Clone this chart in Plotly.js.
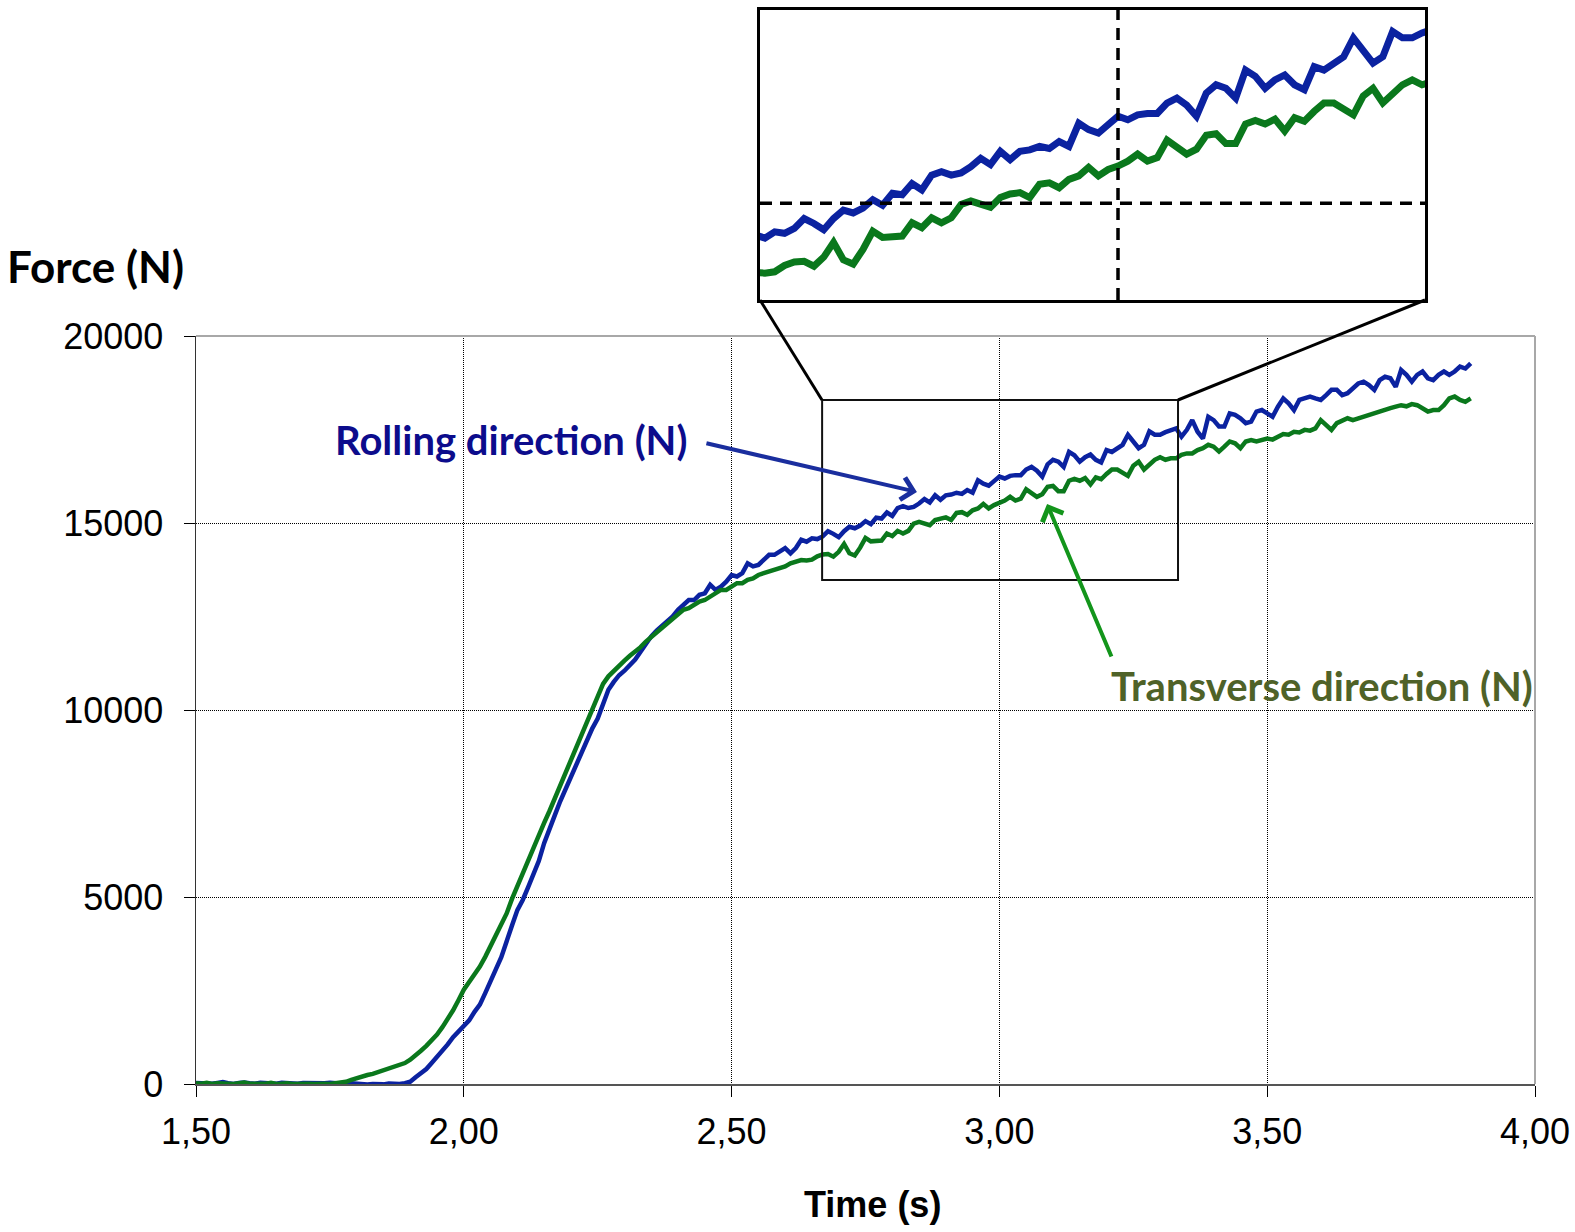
<!DOCTYPE html>
<html><head><meta charset="utf-8">
<script src="https://cdn.plot.ly/plotly-3.0.1.min.js"></script>
<style>html,body{margin:0;padding:0;background:#fff}#chart{width:1575px;height:1232px}</style>
</head><body><div id="chart"></div>
<script>
// ---------------- data ----------------
const time = [
1.50,1.51,1.52,1.53,1.54,1.55,1.56,1.57,1.58,1.59,
1.60,1.61,1.62,1.63,1.64,1.65,1.66,1.67,1.68,1.69,
1.70,1.71,1.72,1.73,1.74,1.75,1.76,1.77,1.78,1.79,
1.80,1.81,1.82,1.83,1.84,1.85,1.86,1.87,1.88,1.89,
1.90,1.91,1.92,1.93,1.94,1.95,1.96,1.97,1.98,1.99,
2.00,2.01,2.02,2.03,2.04,2.05,2.06,2.07,2.08,2.09,
2.10,2.11,2.12,2.13,2.14,2.15,2.16,2.17,2.18,2.19,
2.20,2.21,2.22,2.23,2.24,2.25,2.26,2.27,2.28,2.29,
2.30,2.31,2.32,2.33,2.34,2.35,2.36,2.37,2.38,2.39,
2.40,2.41,2.42,2.43,2.44,2.45,2.46,2.47,2.48,2.49,
2.50,2.51,2.52,2.53,2.54,2.55,2.56,2.57,2.58,2.59,
2.60,2.61,2.62,2.63,2.64,2.65,2.66,2.67,2.68,2.69,
2.70,2.71,2.72,2.73,2.74,2.75,2.76,2.77,2.78,2.79,
2.80,2.81,2.82,2.83,2.84,2.85,2.86,2.87,2.88,2.89,
2.90,2.91,2.92,2.93,2.94,2.95,2.96,2.97,2.98,2.99,
3.00,3.01,3.02,3.03,3.04,3.05,3.06,3.07,3.08,3.09,
3.10,3.11,3.12,3.13,3.14,3.15,3.16,3.17,3.18,3.19,
3.20,3.21,3.22,3.23,3.24,3.25,3.26,3.27,3.28,3.29,
3.30,3.31,3.32,3.33,3.34,3.35,3.36,3.37,3.38,3.39,
3.40,3.41,3.42,3.43,3.44,3.45,3.46,3.47,3.48,3.49,
3.50,3.51,3.52,3.53,3.54,3.55,3.56,3.57,3.58,3.59,
3.60,3.61,3.62,3.63,3.64,3.65,3.66,3.67,3.68,3.69,
3.70,3.71,3.72,3.73,3.74,3.75,3.76,3.77,3.78,3.79,
3.80,3.81,3.82,3.83,3.84,3.85,3.86,3.87,3.88];

const rolling = [
30,20,40,10,30,50,20,0,30,40,
20,10,30,20,-10,10,30,20,0,10,
30,20,10,0,20,30,10,-10,0,20,
10,-20,-10,0,-20,-10,10,-10,0,20,
60,180,290,400,560,720,880,1060,1250,1390,
1540,1700,1930,2120,2430,2720,3070,3390,3860,4240,
4650,4920,5260,5590,5960,6440,6860,7190,7560,7890,
8210,8540,8890,9190,9510,9770,10140,10540,10750,10930,
11050,11200,11350,11560,11780,11970,12120,12250,12400,12500,
12680,12810,12940,12940,13080,13120,13350,13210,13300,13430,
13610,13570,13660,13920,13840,13880,14010,14150,14150,14240,
14330,14190,14330,14550,14500,14590,14570,14640,14780,14710,
14620,14780,14900,14860,14930,15050,14970,15140,15120,15280,
15190,15400,15450,15400,15430,15520,15640,15550,15740,15620,
15740,15760,15810,15780,15880,15810,16140,16050,16000,16120,
16240,16190,16260,16280,16280,16430,16500,16400,16240,16570,
16690,16640,16500,16900,16810,16640,16760,16830,16690,16620,
16950,16900,17000,17090,17360,17170,17000,17090,17450,17360,
17360,17430,17490,17530,17310,17490,17750,17440,17260,17840,
17750,17580,17580,17930,17890,17800,17670,17710,17980,18020,
17930,17840,18110,18330,18200,18020,18290,18330,18380,18330,
18290,18420,18560,18560,18420,18470,18600,18730,18780,18690,
18560,18820,18910,18870,18640,19090,18960,18780,18960,19050,
18870,18820,18960,19050,18960,19050,19180,19130,19270];

const transverse = [
20,10,30,0,20,30,10,0,20,40,
10,0,20,10,30,0,10,20,0,10,
30,10,0,20,10,0,20,30,60,110,
160,200,240,270,320,370,420,450,490,560,
650,760,890,1020,1160,1320,1520,1740,1970,2240,
2520,2730,2930,3140,3400,3700,3950,4230,4560,4950,
5300,5620,5950,6300,6650,6980,7300,7640,7980,8320,
8650,8990,9320,9650,9980,10350,10700,10900,11050,11180,
11320,11450,11560,11680,11830,11950,12060,12180,12300,12410,
12540,12680,12720,12810,12900,12940,13030,13120,13210,13210,
13300,13390,13390,13480,13520,13610,13660,13700,13750,13790,
13840,13920,13970,14010,14000,14020,14110,14160,14170,14100,
14230,14440,14190,14130,14340,14600,14510,14530,14530,14720,
14650,14790,14720,14790,14980,15030,14980,14940,15080,15130,
15150,15080,15270,15290,15220,15340,15390,15510,15390,15480,
15530,15600,15700,15600,15650,15900,15800,15700,15770,15970,
15990,15850,15850,16130,16180,16130,16200,16030,16220,16170,
16310,16430,16430,16340,16260,16530,16640,16430,16550,16690,
16760,16690,16730,16730,16820,16860,16860,16950,17000,17090,
17040,16910,17040,17180,17130,17000,17180,17220,17180,17220,
17260,17230,17310,17380,17360,17440,17420,17490,17470,17530,
17750,17620,17490,17670,17750,17800,17750,17800,17840,17890,
17930,17980,18020,18070,18110,18150,18120,18180,18150,18070,
17980,18020,18020,18150,18330,18380,18290,18240,18330];

const xTickVals = [1.5, 2.0, 2.5, 3.0, 3.5, 4.0];
const yTickVals = [0, 5000, 10000, 15000, 20000];
const seriesNames = ['Rolling direction (N)', 'Transverse direction (N)'];
const xTitle = 'Time (s)';
const yTitle = 'Force (N)';

// ---------------- layout settings ----------------
const BLUE = '#0B22A0', GREEN = '#0A781C';
const zoomBoxX = [2.669, 3.3335], zoomBoxY = [13479, 18288];   // magnified region
const insetX = [2.635, 3.313], insetY = [13617, 17758];         // inset view
const insetMark = {x: 3.0, y: 15000};
const TICKFONT = {family: '"Liberation Sans", Arial, sans-serif', size: 36, color: '#000'};
const LABELFONT = 'Lato, "Open Sans", sans-serif';

const W = 1575, H = 1232, ML = 196, MR = 40, MT = 10, MB = 148;
const PW = W - ML - MR, PH = H - MT - MB;
const px = x => (x - ML) / PW;          // page pixel -> paper x
const py = y => (H - MB - y) / PH;      // page pixel -> paper y

const traces = [
  {x: time, y: rolling, name: seriesNames[0], mode: 'lines', line: {color: BLUE, width: 4.5}, xaxis: 'x', yaxis: 'y'},
  {x: time, y: transverse, name: seriesNames[1], mode: 'lines', line: {color: GREEN, width: 4.5}, xaxis: 'x', yaxis: 'y'},
  {x: time, y: rolling, name: seriesNames[0], mode: 'lines', line: {color: BLUE, width: 7}, xaxis: 'x2', yaxis: 'y2'},
  {x: time, y: transverse, name: seriesNames[1], mode: 'lines', line: {color: GREEN, width: 7}, xaxis: 'x2', yaxis: 'y2'}
];

const layout = {
  width: W, height: H,
  margin: {l: ML, r: MR, t: MT, b: MB},
  paper_bgcolor: '#fff', plot_bgcolor: 'rgba(0,0,0,0)',
  showlegend: false,
  separators: ', ',
  xaxis: {
    domain: [0, 1], range: [1.5, 4.0], tickvals: xTickVals, tickformat: '.2f',
    ticks: 'outside', ticklen: 11, tickwidth: 1, tickcolor: '#000',
    showline: true, linecolor: '#555', linewidth: 2,
    showgrid: true, gridcolor: '#000', gridwidth: 1, griddash: '1px,1px',
    zeroline: false, tickfont: TICKFONT, ticklabelstandoff: 4, anchor: 'y'
  },
  yaxis: {
    domain: [0, py(336)], range: [0, 20000], tickvals: yTickVals, tickformat: 'd',
    ticks: 'outside', ticklen: 11, tickwidth: 1, tickcolor: '#000',
    showline: true, linecolor: '#333', linewidth: 1.5,
    showgrid: true, gridcolor: '#000', gridwidth: 1, griddash: '1px,1px',
    zeroline: false, tickfont: TICKFONT, ticklabelstandoff: 13, anchor: 'x'
  },
  xaxis2: {
    domain: [px(760), px(1425)], range: insetX, anchor: 'y2',
    showticklabels: false, ticks: '', showgrid: false, zeroline: false,
    showline: true, mirror: true, linecolor: '#000', linewidth: 3
  },
  yaxis2: {
    domain: [py(300), py(10)], range: insetY, anchor: 'x2',
    showticklabels: false, ticks: '', showgrid: false, zeroline: false,
    showline: true, mirror: true, linecolor: '#000', linewidth: 3
  },
  shapes: [
    {type: 'line', xref: 'x domain', yref: 'y domain', x0: 0, x1: 1, y0: 1, y1: 1, line: {color: '#a8a8a8', width: 2}},
    {type: 'line', xref: 'x domain', yref: 'y domain', x0: 1, x1: 1, y0: 0, y1: 1, line: {color: '#a8a8a8', width: 2}},
    {type: 'rect', xref: 'x', yref: 'y', x0: zoomBoxX[0], x1: zoomBoxX[1], y0: zoomBoxY[0], y1: zoomBoxY[1], line: {color: '#111', width: 2}},
    {type: 'line', xref: 'paper', yref: 'paper', x0: px(822), y0: py(400), x1: px(760), y1: py(300), line: {color: '#000', width: 3}},
    {type: 'line', xref: 'paper', yref: 'paper', x0: px(1178), y0: py(400), x1: px(1425), y1: py(300), line: {color: '#000', width: 3}},
    {type: 'line', xref: 'x2', yref: 'y2 domain', x0: insetMark.x, x1: insetMark.x, y0: 0, y1: 1, line: {color: '#000', width: 3.5, dash: '12px,8px'}},
    {type: 'line', xref: 'x2 domain', yref: 'y2', x0: 0, x1: 1, y0: insetMark.y, y1: insetMark.y, line: {color: '#000', width: 3.5, dash: '12px,8px'}}
  ],
  annotations: [
    {xref: 'paper', yref: 'paper', x: px(95.5), y: py(266), xanchor: 'center', yanchor: 'middle', showarrow: false,
     text: '<b>' + yTitle + '</b>', font: {family: LABELFONT, size: 44, color: '#000'}},
    {xref: 'paper', yref: 'paper', x: px(872), y: py(1204), xanchor: 'center', yanchor: 'middle', showarrow: false,
     text: '<b>' + xTitle + '</b>', font: {family: '"Liberation Sans", Arial, sans-serif', size: 36, color: '#000'}},
    {xref: 'paper', yref: 'paper', x: px(511), y: py(440), xanchor: 'center', yanchor: 'middle', showarrow: false,
     text: '<b>' + seriesNames[0] + '</b>', font: {family: LABELFONT, size: 40, color: '#0C0C8C'}},
    {xref: 'paper', yref: 'paper', x: px(1322), y: py(686), xanchor: 'center', yanchor: 'middle', showarrow: false,
     text: '<b>' + seriesNames[1] + '</b>', font: {family: LABELFONT, size: 40, color: '#4F6228'}},
    {xref: 'x', yref: 'y', x: 2.846, y: 15830, text: '', showarrow: true, ax: -212, ay: -49,
     arrowcolor: '#1A2E9E', arrowwidth: 4, arrowhead: 4, arrowsize: 1.1, standoff: 0},
    {xref: 'x', yref: 'y', x: 3.089, y: 15509, text: '', showarrow: true, ax: 65, ay: 154,
     arrowcolor: '#13951B', arrowwidth: 4, arrowhead: 4, arrowsize: 1.1, standoff: 0}
  ]
};

Plotly.newPlot('chart', traces, layout, {displayModeBar: false, staticPlot: true});
</script>
</body></html>
